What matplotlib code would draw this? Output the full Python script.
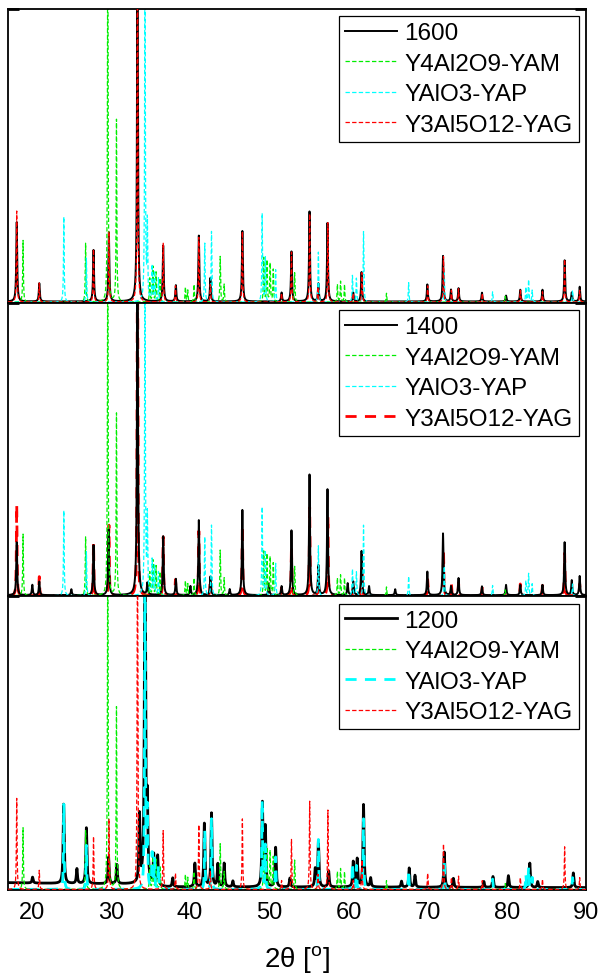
import numpy as np
import matplotlib.pyplot as plt

plt.rcParams['font.family'] = ['Liberation Sans', 'DejaVu Sans']
plt.rcParams['mathtext.default'] = 'regular'

# angle grid for the diffraction profiles
two_theta = np.arange(17.0, 90.0, 0.005)

# reference patterns: peak position [deg 2theta], relative height
yam_pos = [18.9, 26.8, 29.6, 30.7, 34.9, 35.3, 35.7, 36.2, 39.4, 39.7, 40.5,
           43.8, 44.3, 49.3, 49.7, 50.1, 50.5, 53.2, 58.6, 59.0, 59.5, 64.8,
           79.8]
yam_int = [0.21, 0.20, 1.30, 0.62, 0.08, 0.12, 0.10, 0.08, 0.05, 0.04, 0.06,
           0.155, 0.06, 0.15, 0.14, 0.13, 0.11, 0.10, 0.06, 0.07, 0.06, 0.03,
           0.02]

yap_pos = [24.05, 26.9, 34.3, 34.6, 35.2, 35.5, 36.0, 41.85, 42.7, 49.1, 49.5,
           50.8, 56.2, 60.5, 61.0, 61.9, 67.6, 72.1, 78.2, 82.4, 82.75, 83.2,
           88.3]
yap_int = [0.29, 0.15, 1.30, 0.26, 0.12, 0.10, 0.08, 0.20, 0.24, 0.30, 0.15,
           0.11, 0.17, 0.09, 0.08, 0.24, 0.066, 0.10, 0.035, 0.05, 0.075, 0.04,
           0.04]

yag_pos = [18.1, 20.95, 27.8, 29.75, 33.35, 36.6, 38.15, 41.1, 42.55, 46.6,
           51.55, 52.8, 55.1, 56.15, 57.4, 60.6, 61.7, 70.0, 72.0, 73.0, 73.9,
           76.9, 81.7, 84.5, 87.3, 89.2]
yag_int = [0.31, 0.065, 0.18, 0.24, 1.30, 0.20, 0.055, 0.22, 0.06, 0.24,
           0.03, 0.17, 0.30, 0.05, 0.27, 0.03, 0.10, 0.055, 0.155, 0.04, 0.045,
           0.03, 0.04, 0.035, 0.145, 0.04]

# measured samples
s1600_pos = [18.1, 20.95, 27.8, 29.74, 33.35, 36.6, 38.2, 41.1, 42.56, 46.6,
             51.55, 52.8, 55.08, 56.2, 57.35, 60.6, 61.65, 69.96, 71.94, 72.95,
             73.9, 76.86, 79.9, 81.7, 84.5, 87.3, 88.2, 89.2]
s1600_int = [0.27, 0.062, 0.175, 0.235, 1.2, 0.19, 0.055, 0.224, 0.08, 0.24,
             0.03, 0.17, 0.306, 0.06, 0.267, 0.03, 0.10, 0.058, 0.155, 0.04,
             0.045, 0.03, 0.02, 0.04, 0.04, 0.14, 0.03, 0.05]

s1400_pos = [18.1, 20.07, 20.95, 25.0, 27.8, 29.7, 33.35, 34.6, 36.6, 38.2,
             40.04, 41.1, 42.56, 45.0, 46.6, 49.95, 51.55, 52.8, 55.08, 56.2,
             57.35, 59.9, 60.6, 61.65, 62.6, 65.9, 69.96, 71.94, 72.95, 73.9,
             76.86, 79.9, 81.7, 84.5, 87.3, 88.2, 89.2]
s1400_int = [0.18, 0.035, 0.046, 0.02, 0.17, 0.224, 1.2, 0.04, 0.20, 0.055,
             0.03, 0.255, 0.063, 0.02, 0.29, 0.04, 0.03, 0.22, 0.41, 0.10,
             0.36, 0.04, 0.046, 0.15, 0.03, 0.02, 0.08, 0.21, 0.03, 0.058,
             0.03, 0.035, 0.035, 0.035, 0.18, 0.05, 0.065]

s1200_pos = [20.1, 24.03, 25.7, 26.9, 29.7, 30.75, 33.6, 34.3, 34.6, 35.4,
             35.9, 37.8, 40.6, 41.8, 42.7, 43.5, 44.3, 45.4, 49.13, 49.5, 50.8,
             52.6, 55.8, 56.2, 57.5, 60.6, 61.1, 61.9, 62.8, 66.7, 67.67, 68.4,
             72.1, 73.25, 77.1, 78.25, 80.2, 82.9, 83.9, 88.4]
s1200_int = [0.02, 0.27, 0.05, 0.19, 0.09, 0.065, 0.23, 1.3, 0.25, 0.10,
             0.10, 0.03, 0.08, 0.215, 0.25, 0.077, 0.08, 0.02, 0.283, 0.20,
             0.134, 0.03, 0.06, 0.155, 0.054, 0.085, 0.094, 0.28, 0.03, 0.02,
             0.065, 0.04, 0.12, 0.03, 0.02, 0.037, 0.04, 0.083, 0.02, 0.05]

# 1200 sample background level (angle, level)
bg1200_pos = [17.0, 24.0, 33.0, 37.0, 60.0, 90.0]
bg1200_lvl = [0.025, 0.022, 0.02, 0.01, 0.01, 0.008]

sample_labels = ['1600', '1400', '1200']
phase_labels = ['Y4Al2O9-YAM', 'YAlO3-YAP', 'Y3Al5O12-YAG']


def profile(pos, inten, hw, base=0.004):
    """Lorentzian profile built from a peak list"""
    y = np.full_like(two_theta, base)
    for p, h in zip(pos, inten):
        y += h / (1.0 + ((two_theta - p) / hw) ** 2)
    return y


samples = [
    profile(s1600_pos, s1600_int, 0.07),
    profile(s1400_pos, s1400_int, 0.07),
    profile(s1200_pos, s1200_int, 0.08, base=0.0)
    + np.interp(two_theta, bg1200_pos, bg1200_lvl),
]
yam = profile(yam_pos, yam_int, 0.05, base=0.002)
yap = profile(yap_pos, yap_int, 0.05, base=0.002)
yag = profile(yag_pos, yag_int, 0.05, base=0.002)

thin = (0, (3.5, 1.8))
thick = (0, (4, 3))
# per panel: (black lw, yap lw, yap dash, yag lw, yag dash, yag zorder)
styles = [
    (1.4, 0.9, thin, 0.9, thin, 3),
    (1.4, 0.9, thin, 2.0, thick, 1.5),
    (2.0, 2.0, thick, 0.9, thin, 3),
]

fig = plt.figure(figsize=(6.01, 9.78), dpi=100)
left, right = 8 / 601, 586 / 601
top, bottom = 1 - 10 / 978, 1 - 891 / 978
h = (top - bottom) / 3

for i in range(3):
    ax = fig.add_axes([left, top - (i + 1) * h, right - left, h])
    lw_s, lw_p, ls_p, lw_g, ls_g, z_g = styles[i]
    ax.plot(two_theta, samples[i], color='black', lw=lw_s,
            label=sample_labels[i], zorder=2)
    ax.plot(two_theta, yam, color='#00ee00', lw=0.9, ls=thin,
            label=phase_labels[0], zorder=2.1)
    ax.plot(two_theta, yap, color='#00ffff', lw=lw_p, ls=ls_p,
            label=phase_labels[1], zorder=2.2)
    ax.plot(two_theta, yag, color='#ff0000', lw=lw_g, ls=ls_g,
            label=phase_labels[2], zorder=z_g)
    ax.set_xlim(17, 90)
    ax.set_ylim(0, 1)
    ax.set_yticks([1])
    ax.set_yticklabels([])
    ax.tick_params(axis='y', direction='in', length=8, width=2,
                   left=True, right=True)
    ax.set_xticks(np.arange(20, 91, 10))
    ax.tick_params(axis='x', length=0, pad=8, labelsize=17)
    for sp in ax.spines.values():
        sp.set_linewidth(1.3)
    if i < 2:
        ax.set_xticklabels([])
    leg = ax.legend(loc='upper right', fontsize=17.5, frameon=True,
                    fancybox=False, framealpha=1, edgecolor='black',
                    borderpad=0.25, labelspacing=0.35, handlelength=2.15,
                    handletextpad=0.3, borderaxespad=0.3)
    leg.set_zorder(5)
    leg.get_frame().set_linewidth(0.9)

ax.set_xlabel(r'2θ [$^{o}$]', fontsize=20, labelpad=14)

fig.savefig('out.png', dpi=100)
